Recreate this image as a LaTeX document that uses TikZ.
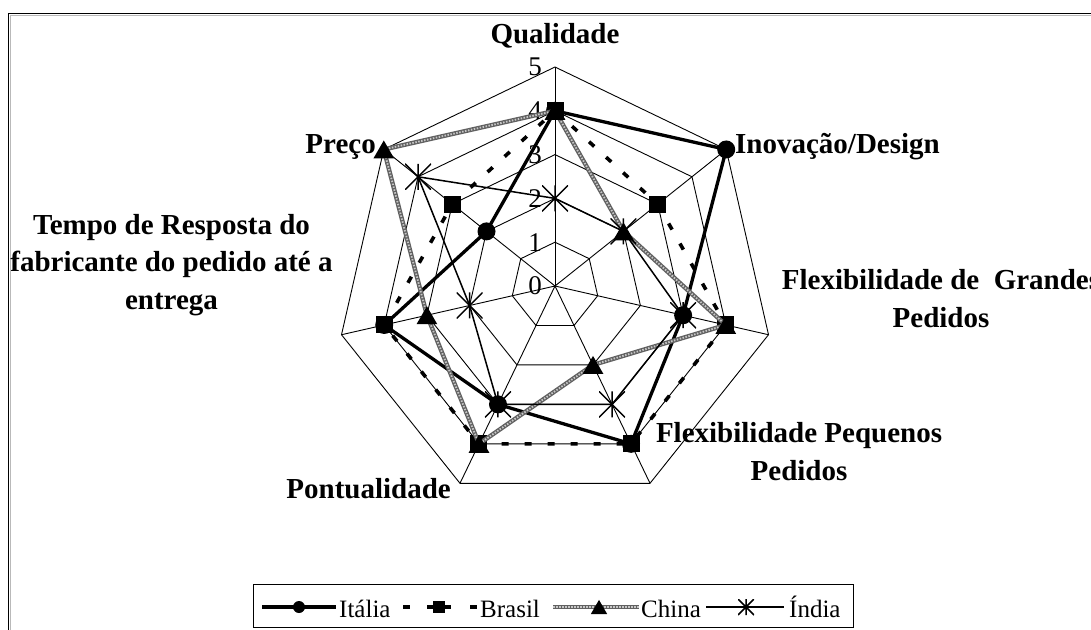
\documentclass[tikz,border=0pt]{standalone}
\usepackage{fontspec}
\setmainfont{Liberation Serif}
\usetikzlibrary{shapes.geometric}
\begin{document}
\begin{tikzpicture}[x=1pt,y=-1pt,
  grid/.style={line width=0.9pt, black},
  axislabel/.style={font=\bfseries\fontsize{29}{37.5}\selectfont, inner sep=0pt, align=center},
  ticklabel/.style={font=\fontsize{27}{30}\selectfont, inner sep=0pt, anchor=east},
  legendtext/.style={font=\fontsize{25}{30}\selectfont, inner sep=0pt, anchor=base west},
  italyline/.style={line width=3.3pt, black, line join=round},
  brasilline/.style={line width=3.6pt, black, dash pattern=on 7pt off 16pt},
  chinaline/.style={line width=4.4pt, black!62, line join=round},
  chinatex/.style={line width=1.8pt, black!22, dash pattern=on 1.5pt off 1.5pt},
  indialine/.style={line width=1.5pt, black, line join=round},
  dotmark/.style={circle, fill=black, inner sep=0pt, minimum size=#1},
  dotmark/.default=18pt,
  boxmark/.style={rectangle, fill=black, inner sep=0pt, minimum size=#1},
  boxmark/.default=17pt,
  trimark/.style={regular polygon, regular polygon sides=3, fill=black, inner sep=0pt,
    minimum size=#1, yshift=-0.125*#1},
  trimark/.default=24pt,
  starmark/.style={rectangle, inner sep=0pt, minimum size=#1,
    path picture={\draw[line width=1.5pt]
      (path picture bounding box.north west) -- (path picture bounding box.south east)
      (path picture bounding box.south west) -- (path picture bounding box.north east)
      (path picture bounding box.north) -- (path picture bounding box.south);}},
  starmark/.default=26pt
]
\useasboundingbox (0,0) rectangle (1091,629);
\fill[white] (0,0) rectangle (1091,629);

% outer frame of the chart area
\draw[gray!55, line width=1pt] (10.2,640) -- (10.2,15.2) -- (1100,15.2);
\draw[black, line width=1.4pt] (8.5,640) -- (8.5,13.5) -- (1100,13.5);

\def\u{43.8}
\begin{scope}[shift={(555,286)}, y=1pt]
  \coordinate (c) at (0,0);
  % spokes
  \foreach \i in {0,...,6} {
    \coordinate (ax\i) at ({90-360/7*\i}:{5*\u});
    \draw[grid] (c) -- (ax\i);
  }
  % rings
  \foreach \k in {1,...,5}
    \draw[grid] (90:{\k*\u}) \foreach \i in {1,...,6} { -- ({90-360/7*\i}:{\k*\u}) } -- cycle;

  % data points
  \foreach \v [count=\i from 0] in {4,5,3,4,3,4,2}
    \coordinate (it\i) at ({90-360/7*\i}:{\v*\u});
  \foreach \v [count=\i from 0] in {4,3,4,4,4,4,3}
    \coordinate (br\i) at ({90-360/7*\i}:{\v*\u});
  \foreach \v [count=\i from 0] in {4,2,4,2,4,3,5}
    \coordinate (cn\i) at ({90-360/7*\i}:{\v*\u});
  \foreach \v [count=\i from 0] in {2,2,3,3,3,2,4}
    \coordinate (in\i) at ({90-360/7*\i}:{\v*\u});
\end{scope}

% scale values on the first axis
\foreach \k in {0,...,5}
  \node[ticklabel] (tick\k) at (542,{286-\k*43.8}) {\k};

% Italia
\draw[italyline] (it0) -- (it1) -- (it2) -- (it3) -- (it4) -- (it5) -- (it6) -- cycle;
\foreach \i in {0,...,6} \node[dotmark] (itm\i) at (it\i) {};
% Brasil
\draw[brasilline] (br0) -- (br1) -- (br2) -- (br3) -- (br4) -- (br5) -- (br6) -- cycle;
\foreach \i in {0,...,6} \node[boxmark] (brm\i) at (br\i) {};
% China
\draw[chinaline] (cn0) -- (cn1) -- (cn2) -- (cn3) -- (cn4) -- (cn5) -- (cn6) -- cycle;
\draw[chinatex] (cn0) -- (cn1) -- (cn2) -- (cn3) -- (cn4) -- (cn5) -- (cn6) -- cycle;
\foreach \i in {0,...,6} \node[trimark] (cnm\i) at (cn\i) {};
% India
\draw[indialine] (in0) -- (in1) -- (in2) -- (in3) -- (in4) -- (in5) -- (in6) -- cycle;
\foreach \i in {0,...,6} \node[starmark] (inm\i) at (in\i) {};

% axis labels
\node[axislabel, anchor=base] (lq) at (555,43) {Qualidade};
\node[axislabel, anchor=base west] (li) at (735,153) {Inovação/Design};
\node[axislabel, anchor=base] (lfg) at (941,327) {Flexibilidade de \ Grandes\\Pedidos};
\node[axislabel, anchor=base] (lfp) at (799,480) {Flexibilidade Pequenos\\Pedidos};
\node[axislabel, anchor=base east] (lp) at (451,498) {Pontualidade};
\node[axislabel, anchor=base] (lt) at (171.5,309) {Tempo de Resposta do\\fabricante do pedido até a\\entrega};
\node[axislabel, anchor=base east] (lpr) at (376,153) {Preço};

% legend
\draw[line width=1pt] (253,584) rectangle (853,627);
\coordinate (l1a) at (262,607); \coordinate (l1b) at (336,607);
\coordinate (l2a) at (403,607); \coordinate (l2b) at (477,607);
\coordinate (l3a) at (553,607); \coordinate (l3b) at (639,607);
\coordinate (l4a) at (706,607); \coordinate (l4b) at (784,607);
\draw[italyline] (l1a) -- (l1b);
\node[dotmark=12pt] (lm1) at (299,607) {};
\node[legendtext] (lt1) at (339,617) {Itália};
\draw[brasilline, dash pattern=on 7pt off 17pt on 24pt off 19pt on 7pt off 10pt] (l2a) -- (l2b);
\node[boxmark=12pt] (lm2) at (439,607) {};
\node[legendtext] (lt2) at (480,617) {Brasil};
\draw[chinaline] (l3a) -- (l3b);
\draw[chinatex] (l3a) -- (l3b);
\node[trimark=19pt] (lm3) at (599,607) {};
\node[legendtext] (lt3) at (641,617) {China};
\draw[indialine] (l4a) -- (l4b);
\node[starmark=16pt] (lm4) at (746,607) {};
\node[legendtext] (lt4) at (789,617) {Índia};
\end{tikzpicture}
\end{document}
